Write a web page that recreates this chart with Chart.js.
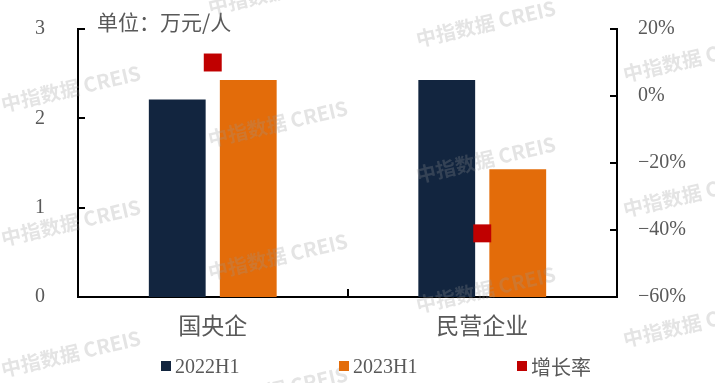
<!DOCTYPE html>
<html><head><meta charset="utf-8">
<script src="https://cdn.jsdelivr.net/npm/chart.js@4.4.0/dist/chart.umd.min.js"></script>
<style>
html,body{margin:0;padding:0;background:#fff;}
#wrap{position:relative;width:715px;height:383px;overflow:hidden;}
#legend{position:absolute;left:0;top:354px;width:715px;height:24px;}
.item{position:absolute;top:0;height:24px;display:flex;align-items:center;font-family:"Liberation Serif","Noto Sans CJK SC",serif;font-size:20px;color:#595959;white-space:nowrap;}
.box{width:10px;height:10px;margin-right:4px;flex:none;}
</style></head>
<body>
<div id="wrap">
<canvas id="c" width="715" height="383"></canvas>
<div id="legend"></div>
</div>
<script>
const categories = ['国央企', '民营企业'];
const seriesNames = ['2022H1', '2023H1', '增长率'];
const values2022 = [2.21, 2.43];
const values2023 = [2.43, 1.43];
const growth = [10, -41];
const leftTicks = [0, 1, 2, 3];
const rightTicks = [-60, -40, -20, 0, 20];
const unitLabel = '单位：万元/人';
const watermark = '中指数据 CREIS';

const colors = ['#12253F', '#E36C0A', '#C00000'];
const gray = '#595959';
const serif = '"Liberation Serif", "Noto Sans CJK SC", serif';

const innerTicks = {
  id: 'innerTicks',
  afterDraw(chart) {
    const ctx = chart.ctx, a = chart.chartArea;
    const y = chart.scales.y, y1 = chart.scales.y1, x = chart.scales.x;
    ctx.save();
    ctx.strokeStyle = '#000';
    ctx.lineWidth = 2;
    ctx.beginPath();
    leftTicks.forEach(v => { const p = Math.round(y.getPixelForValue(v)); ctx.moveTo(a.left, p); ctx.lineTo(a.left + 7, p); });
    rightTicks.forEach(v => { const p = Math.round(y1.getPixelForValue(v)); ctx.moveTo(a.right, p); ctx.lineTo(a.right - 7, p); });
    for (let i = 0; i < categories.length - 1; i++) {
      const p = Math.round(x.getPixelForValue(i + 0.5));
      ctx.moveTo(p, a.bottom); ctx.lineTo(p, a.bottom - 8);
    }
    ctx.stroke();
    // unit label
    ctx.fillStyle = gray;
    ctx.font = '21px "Noto Sans CJK SC", sans-serif';
    ctx.textBaseline = 'middle';
    ctx.textAlign = 'left';
    ctx.fillText(unitLabel, 97, 22);
    // watermarks
    const spots = [[3,112],[3,246],[3,377],[210,15],[210,147],[210,280],[210,413],[418,47],[418,183],[418,313],[625,82],[625,217],[625,347]];
    ctx.fillStyle = 'rgba(150,150,150,0.26)';
    ctx.font = 'bold 20px "Noto Sans CJK SC", sans-serif';
    ctx.textBaseline = 'alphabetic';
    spots.forEach(([sx, sy]) => {
      ctx.save();
      ctx.translate(sx, sy);
      ctx.rotate(-13 * Math.PI / 180);
      ctx.fillText(watermark, 0, 0);
      ctx.restore();
    });
    ctx.restore();
  }
};

const chart = new Chart(document.getElementById('c'), {
  data: {
    labels: categories,
    datasets: [
      { type: 'bar', label: seriesNames[0], data: values2022, backgroundColor: colors[0], yAxisID: 'y', order: 1,
        categoryPercentage: 0.527, barPercentage: 0.80 },
      { type: 'bar', label: seriesNames[1], data: values2023, backgroundColor: colors[1], yAxisID: 'y', order: 1,
        categoryPercentage: 0.527, barPercentage: 0.80 },
      { type: 'line', label: seriesNames[2], data: growth, yAxisID: 'y1', order: 0, showLine: false,
        pointStyle: 'rect', pointRadius: 12.7, pointHoverRadius: 12.7, pointBackgroundColor: colors[2], pointBorderWidth: 0,
        backgroundColor: colors[2], borderColor: colors[2], clip: false }
    ]
  },
  options: {
    responsive: false,
    animation: false,
    devicePixelRatio: 1,
    layout: { autoPadding: false, padding: { top: 29, left: 0, right: 0, bottom: 0 } },
    plugins: { legend: { display: false }, tooltip: { enabled: false } },
    scales: {
      x: {
        type: 'category', offset: true,
        grid: { display: false, drawTicks: false },
        border: { display: true, color: '#000', width: 2 },
        ticks: { color: gray, font: { family: serif, size: 23 }, padding: 17, maxRotation: 0 },
        afterFit(s) { s.height = 86; s.paddingLeft = 0; s.paddingRight = 0; }
      },
      y: {
        position: 'left', min: 0, max: 3,
        afterBuildTicks(s) { s.ticks = leftTicks.map(v => ({ value: v })); },
        grid: { display: false, drawTicks: false },
        border: { display: true, color: '#000', width: 2 },
        ticks: { color: gray, font: { family: serif, size: 20 }, padding: 33 },
        afterFit(s) { s.width = 78; s.paddingTop = 0; s.paddingBottom = 0; }
      },
      y1: {
        position: 'right', min: -60, max: 20,
        afterBuildTicks(s) { s.ticks = rightTicks.map(v => ({ value: v })); },
        grid: { display: false, drawTicks: false },
        border: { display: true, color: '#000', width: 2 },
        ticks: { color: gray, font: { family: serif, size: 20 }, padding: 21,
          callback: v => (v < 0 ? '\u2212' + Math.abs(v) : v) + '%' },
        afterFit(s) { s.width = 98; s.paddingTop = 0; s.paddingBottom = 0; }
      }
    }
  },
  plugins: [innerTicks]
});

// HTML legend built from the datasets
const legendLeft = [161, 339, 517];
const lg = document.getElementById('legend');
chart.data.datasets.forEach((ds, i) => {
  const it = document.createElement('div');
  it.className = 'item';
  it.style.left = legendLeft[i] + 'px';
  const b = document.createElement('span');
  b.className = 'box';
  b.style.background = colors[i];
  const t = document.createElement('span');
  t.textContent = ds.label;
  it.appendChild(b); it.appendChild(t);
  lg.appendChild(it);
});
</script>
</body></html>
